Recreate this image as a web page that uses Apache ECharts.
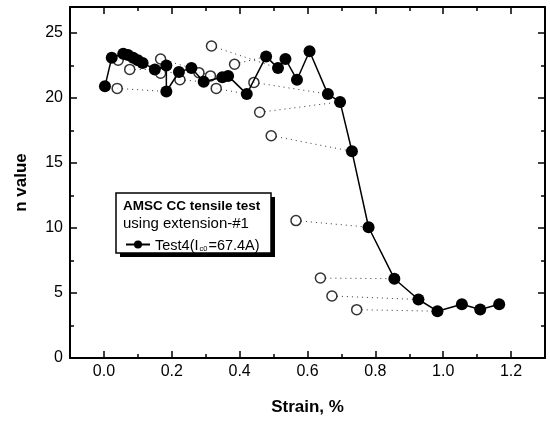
<!DOCTYPE html>
<html>
<head>
<meta charset="utf-8">
<script src="https://cdn.jsdelivr.net/npm/echarts@6/dist/echarts.min.js"></script>
<style>
html,body{margin:0;padding:0;background:#fff;}
#chart{width:550px;height:423px;}
</style>
</head>
<body>
<div id="chart"></div>
<script>
// Filled symbols: Test4 series
const strainFilled = [0.003, 0.023, 0.057, 0.071, 0.086, 0.100, 0.114, 0.150, 0.184, 0.184, 0.221, 0.258, 0.294, 0.349, 0.366, 0.421, 0.478, 0.513, 0.535, 0.569, 0.606, 0.660, 0.696, 0.731, 0.780, 0.856, 0.927, 0.983, 1.055, 1.109, 1.165];
const nFilled = [20.9, 23.1, 23.4, 23.3, 23.1, 22.9, 22.7, 22.2, 22.5, 20.5, 22.0, 22.3, 21.25, 21.6, 21.7, 20.3, 23.2, 22.3, 23.0, 21.4, 23.6, 20.3, 19.7, 15.9, 10.06, 6.1, 4.5, 3.6, 4.14, 3.73, 4.14];
// Open symbols
const strainOpen = [0.039, 0.042, 0.076, 0.167, 0.167, 0.224, 0.280, 0.314, 0.317, 0.331, 0.385, 0.442, 0.459, 0.493, 0.566, 0.638, 0.672, 0.745];
const nOpen = [20.74, 22.9, 22.2, 23.0, 21.9, 21.4, 21.95, 21.7, 24.0, 20.74, 22.6, 21.2, 18.9, 17.1, 10.57, 6.15, 4.77, 3.72];
// index of the filled point each open point is joined to (dotted)
const openToFilled = [9, 4, 7, 11, 10, 12, 13, 14, 17, 15, 16, 21, 22, 23, 24, 25, 26, 27];
// ticks
const xMajor = [0, 0.2, 0.4, 0.6, 0.8, 1.0, 1.2];
const xMinor = [0.1, 0.3, 0.5, 0.7, 0.9, 1.1];
const yMajor = [0, 5, 10, 15, 20, 25];
const yMinor = [2.5, 7.5, 12.5, 17.5, 22.5];

const FONT = 'Liberation Sans, Arial, sans-serif';
const chart = echarts.init(document.getElementById('chart'), null, {renderer: 'canvas'});

const filledData = strainFilled.map((x, i) => [x, nFilled[i]]);
const openData = strainOpen.map((x, i) => [x, nOpen[i]]);
const pairData = openToFilled.map((fi, i) => ({coords: [[strainOpen[i], nOpen[i]], [strainFilled[fi], nFilled[fi]]]}));

const black = '#000';
function xAx(pos, major, showLine, showLabel, extra) {
  return Object.assign({
    type: 'value', position: pos, min: -0.1, max: 1.3,
    axisLine: {show: showLine, onZero: false, lineStyle: {color: black, width: 2}},
    axisTick: {show: true, inside: true, length: major ? 7 : 4, customValues: major ? xMajor : xMinor, lineStyle: {color: black, width: 1.5}},
    axisLabel: {show: showLabel, customValues: xMajor, formatter: v => v.toFixed(1), color: black, fontSize: 16, margin: 6, fontFamily: FONT},
    splitLine: {show: false}
  }, extra || {});
}
function yAx(pos, major, showLine, showLabel, extra) {
  return Object.assign({
    type: 'value', position: pos, min: 0, max: 27,
    axisLine: {show: showLine, onZero: false, lineStyle: {color: black, width: 2}},
    axisTick: {show: true, inside: true, length: major ? 7 : 4, customValues: major ? yMajor : yMinor, lineStyle: {color: black, width: 1.5}},
    axisLabel: {show: showLabel, customValues: yMajor, color: black, fontSize: 16, margin: 7, fontFamily: FONT},
    splitLine: {show: false}
  }, extra || {});
}

const option = {
  backgroundColor: '#fff',
  animation: false,
  grid: {left: 70, right: 5, top: 7, bottom: 65, containLabel: false},
  xAxis: [
    xAx('bottom', true, true, true, {name: 'Strain, %', nameLocation: 'middle', nameGap: 41,
      nameTextStyle: {color: black, fontWeight: 'bold', fontSize: 17, fontFamily: FONT}}),
    xAx('bottom', false, false, false),
    xAx('top', true, true, false),
    xAx('top', false, false, false)
  ],
  yAxis: [
    yAx('left', true, true, true, {name: 'n value', nameLocation: 'middle', nameGap: 40, nameRotate: 90,
      nameTextStyle: {color: black, fontWeight: 'bold', fontSize: 17, fontFamily: FONT}}),
    yAx('left', false, false, false),
    yAx('right', true, true, false),
    yAx('right', false, false, false)
  ],
  legend: {
    data: ['Test4'],
    left: 120, top: 233,
    itemWidth: 24, itemHeight: 10, itemGap: 0,
    z: 20,
    formatter: () => '{a|Test4(I}{s|c0}{a|=67.4A)}',
    textStyle: {
      color: black, fontFamily: FONT,
      rich: {
        a: {fontSize: 14.5, color: black, fontFamily: FONT, lineHeight: 17, verticalAlign: 'bottom'},
        s: {fontSize: 7.5, color: black, fontFamily: FONT, lineHeight: 17, verticalAlign: 'bottom', padding: [0, 1, 0, 1]}
      }
    }
  },
  graphic: [
    {type: 'rect', z: 15, shape: {x: 120, y: 197, width: 155, height: 60}, style: {fill: black}},
    {type: 'rect', z: 16, shape: {x: 116, y: 193, width: 155, height: 60}, style: {fill: '#fff', stroke: black, lineWidth: 1.5}},
    {type: 'text', z: 17, left: 123, top: 199, style: {text: 'AMSC CC tensile test', font: 'bold 13.5px ' + FONT, fill: black}},
    {type: 'text', z: 17, left: 123, top: 216, style: {text: 'using extension-#1', font: '15px ' + FONT, fill: black}}
  ],
  series: [
    {
      name: 'pairs', type: 'lines', coordinateSystem: 'cartesian2d', xAxisIndex: 0, yAxisIndex: 0,
      z: 1, silent: true,
      lineStyle: {color: '#333', width: 1, type: [1, 4], opacity: 1, curveness: 0},
      data: pairData
    },
    {
      name: 'open', type: 'scatter', xAxisIndex: 0, yAxisIndex: 0, z: 2,
      symbol: 'circle', symbolSize: 10,
      itemStyle: {color: '#fff', borderColor: black, borderWidth: 1.5},
      data: openData
    },
    {
      name: 'Test4', type: 'line', xAxisIndex: 0, yAxisIndex: 0, z: 3,
      symbol: 'circle', symbolSize: 12, showAllSymbol: true,
      itemStyle: {color: black, borderColor: black, borderWidth: 0},
      lineStyle: {color: black, width: 1.5},
      data: filledData
    }
  ]
};
chart.setOption(option);
</script>
</body>
</html>
